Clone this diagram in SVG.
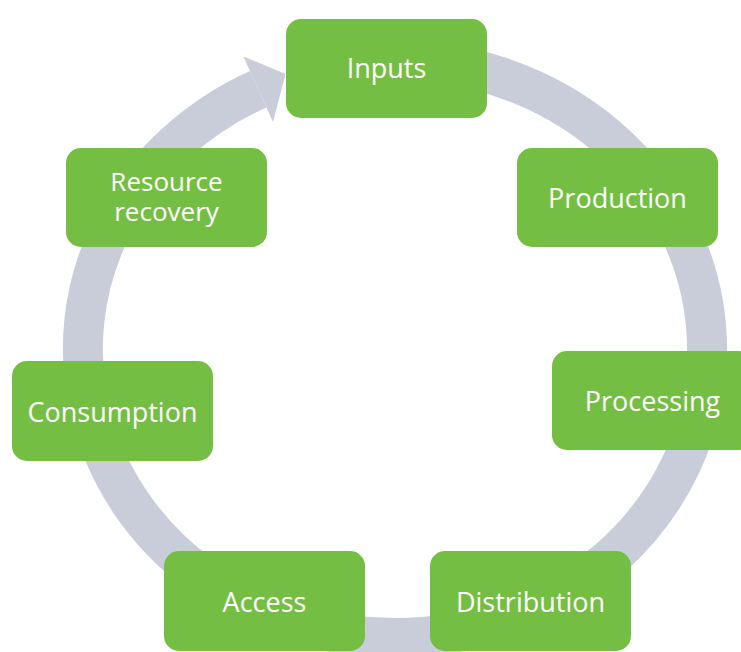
<svg xmlns="http://www.w3.org/2000/svg" width="741" height="652" viewBox="0 0 741 652">
<style>
.box{fill:#75BE44}
.lbl{fill:#FFFFFF;font-family:"Open Sans","Noto Sans",sans-serif;font-size:27px;text-anchor:middle}
.sm{font-size:26px}
.ring{fill:none;stroke:#C9CDD9;stroke-width:40}
.head{fill:#C9CDD9}
</style>
<rect width="741" height="652" fill="#FFFFFF"/>
<g id="connectors">
<path class="ring" d="M 422.2 61.1 A 312 289 0 0 1 395 638 A 312 289 0 0 1 258.2 89.2"/>
<polygon class="head" points="285.5,74 273,122 243.4,56.4"/>
</g>
<g id="inputs"><rect class="box" x="286" y="19" width="201" height="99" rx="15"/><text class="lbl" x="386.5" y="78">Inputs</text></g>
<g id="production"><rect class="box" x="517" y="148" width="201" height="99" rx="15"/><text class="lbl" x="617.5" y="208">Production</text></g>
<g id="processing"><rect class="box" x="552" y="351" width="201" height="99" rx="15"/><text class="lbl" x="652.5" y="411">Processing</text></g>
<g id="distribution"><rect class="box" x="430" y="551" width="201" height="100" rx="15"/><text class="lbl" x="530.5" y="612">Distribution</text></g>
<g id="access"><rect class="box" x="164" y="551" width="201" height="100" rx="15"/><text class="lbl" x="264.5" y="612">Access</text></g>
<g id="consumption"><rect class="box" x="12" y="361" width="201" height="100" rx="15"/><text class="lbl" x="112.5" y="422">Consumption</text></g>
<g id="resource-recovery"><rect class="box" x="66" y="148" width="201" height="99" rx="15"/><text class="lbl sm"><tspan x="166.5" y="191">Resource</tspan><tspan x="166.5" y="221">recovery</tspan></text></g>
</svg>
